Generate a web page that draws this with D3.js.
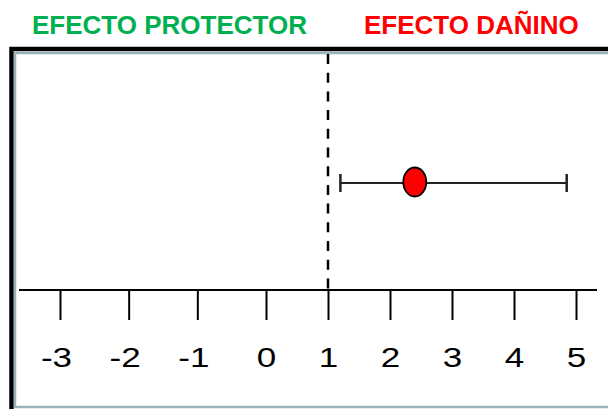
<!DOCTYPE html>
<html>
<head>
<meta charset="utf-8">
<script src="https://cdn.jsdelivr.net/npm/d3@7.9.0/dist/d3.min.js"></script>
<style>
  body { margin: 0; background: #fff; }
  svg { display: block; font-family: Arial, 'Liberation Sans', sans-serif; }
</style>
</head>
<body>
<svg id="chart" width="608" height="409"></svg>
<script>
// data
const tickValues = [-3, -2, -1, 0, 1, 2, 3, 4, 5];
const tickLabels = ['-3', '-2', '-1', '0', '1', '2', '3', '4', '5'];
const estimate = [2.4];
const ciLow = [1.2];
const ciHigh = [4.85];
const nullValue = 1;
const headings = ['EFECTO PROTECTOR', 'EFECTO DAÑINO'];
const headingColors = ['#00b050', '#ff0000'];

const svg = d3.select('#chart');

// hand drawn axis: negative side is spaced a bit wider
let x = d3.scaleLinear().domain([-3, 0, 5]).range([60, 266, 576]);

const axisY = 290;
const rowY = 183;

// frame (runs off the right/bottom edge)
svg.append('rect')
  .attr('x', 11.5).attr('y', 49).attr('width', 720).attr('height', 420)
  .attr('fill', 'none').attr('stroke', '#000').attr('stroke-width', 4.5);
svg.append('rect')
  .attr('x', 15).attr('y', 53).attr('width', 720).attr('height', 354)
  .attr('fill', 'none').attr('stroke', '#9bb1b9').attr('stroke-width', 2.5);

// headings
svg.selectAll('text.heading')
  .data(headings)
  .join('text')
  .attr('class', 'heading')
  .attr('x', (d, i) => i === 0 ? 32 : 364)
  .attr('y', 34)
  .attr('fill', (d, i) => headingColors[i])
  .attr('font-size', 26)
  .attr('font-weight', 'bold')
  .text((d) => d);

// null line
svg.append('line')
  .attr('x1', x(nullValue)).attr('x2', x(nullValue))
  .attr('y1', 54).attr('y2', axisY)
  .attr('stroke', '#000').attr('stroke-width', 2.5)
  .attr('stroke-dasharray', '10,8.7');

// axis
svg.append('line')
  .attr('x1', 19).attr('x2', 597)
  .attr('y1', axisY).attr('y2', axisY)
  .attr('stroke', '#000').attr('stroke-width', 2);

let axis = d3.axisBottom(x)
  .tickValues(tickValues)
  .tickFormat((d, i) => tickLabels[i])
  .tickSize(30);

let gAxis = svg.append('g')
  .attr('transform', `translate(0,${axisY})`)
  .call(axis);
gAxis.select('.domain').remove();
gAxis.selectAll('.tick line').attr('stroke', '#000').attr('stroke-width', 2);
gAxis.selectAll('.tick text')
  .attr('y', 0).attr('dy', 0)
  .attr('fill', '#000')
  .attr('font-size', 28)
  .attr('font-family', 'Arial, Liberation Sans, sans-serif')
  .attr('transform', (d) => `translate(${d < 0 ? -4 : 0},77) scale(1.25,1)`);

// confidence interval
estimate.forEach((est, i) => {
  svg.append('line')
    .attr('x1', x(ciLow[i])).attr('x2', x(ciHigh[i]))
    .attr('y1', rowY).attr('y2', rowY)
    .attr('stroke', '#222').attr('stroke-width', 2);
  [ciLow[i], ciHigh[i]].forEach((v) => {
    svg.append('line')
      .attr('x1', x(v)).attr('x2', x(v))
      .attr('y1', rowY - 9).attr('y2', rowY + 9)
      .attr('stroke', '#222').attr('stroke-width', 2.5);
  });
  svg.append('ellipse')
    .attr('cx', x(est)).attr('cy', rowY - 1)
    .attr('rx', 11.5).attr('ry', 14.5)
    .attr('fill', '#ff0000')
    .attr('stroke', '#000').attr('stroke-width', 1.8);
});
</script>
</body>
</html>
